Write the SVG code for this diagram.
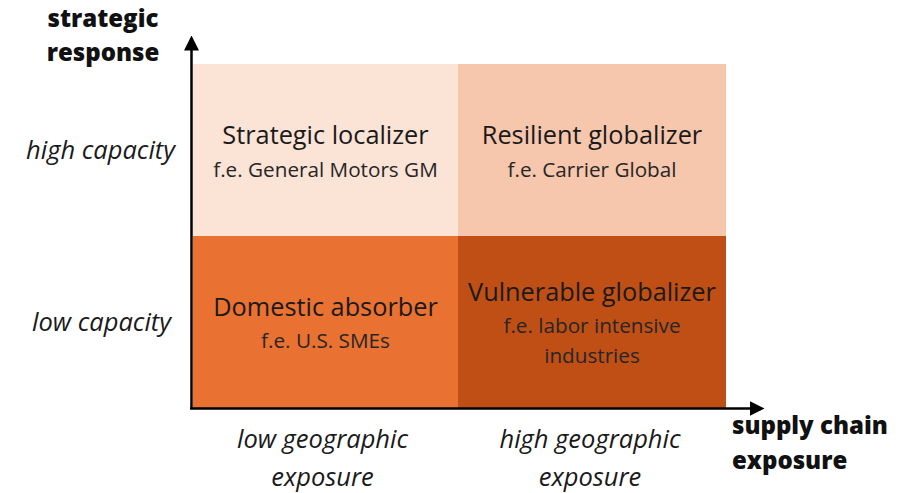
<svg xmlns="http://www.w3.org/2000/svg" width="908" height="493" viewBox="0 0 908 493">
  <defs>
    <marker id="arrow" markerWidth="6" markerHeight="6" refX="5" refY="3" orient="auto" markerUnits="strokeWidth">
      <path d="M0,0 L6,3 L0,6 Z" fill="#000"/>
    </marker>
    <style>
      .title { font-family: "Open Sans", "Liberation Sans", sans-serif; font-size: 25.3px; fill: #1a1a1a; text-anchor: middle; }
      .sub { font-family: "Open Sans", "Liberation Sans", sans-serif; font-size: 20.7px; fill: #262626; text-anchor: middle; }
      .tick { font-family: "Open Sans", "Liberation Sans", sans-serif; font-size: 25.5px; font-style: italic; fill: #1a1a1a; }
      .axis-label { font-family: "Open Sans", "Liberation Sans", sans-serif; font-size: 24px; font-weight: 800; fill: #111; }
      .axis { stroke: #000; stroke-width: 2.5; fill: none; }
    </style>
  </defs>

  <rect width="908" height="493" fill="#fff"/>

  <!-- quadrants -->
  <g id="strategic-localizer">
    <rect x="193" y="64" width="265" height="172" fill="#FBE3D6"/>
    <text class="title" x="325.5" y="144">Strategic localizer</text>
    <text class="sub" x="325.5" y="177">f.e. General Motors GM</text>
  </g>
  <g id="resilient-globalizer">
    <rect x="458" y="64" width="268" height="172" fill="#F6C6AD"/>
    <text class="title" x="592" y="144">Resilient globalizer</text>
    <text class="sub" x="592" y="177">f.e. Carrier Global</text>
  </g>
  <g id="domestic-absorber">
    <rect x="193" y="236" width="265" height="172" fill="#E97132"/>
    <text class="title" x="325.5" y="316">Domestic absorber</text>
    <text class="sub" x="325.5" y="348">f.e. U.S. SMEs</text>
  </g>
  <g id="vulnerable-globalizer">
    <rect x="458" y="236" width="268" height="172" fill="#C04F15"/>
    <text class="title" x="592" y="301">Vulnerable globalizer</text>
    <text class="sub" x="592" y="333">f.e. labor intensive</text>
    <text class="sub" x="592" y="363">industries</text>
  </g>

  <!-- axes -->
  <g id="connectors">
    <line class="axis" x1="191.5" y1="409" x2="191.5" y2="38" marker-end="url(#arrow)"/>
    <line class="axis" x1="190" y1="408.5" x2="762" y2="408.5" marker-end="url(#arrow)"/>
  </g>

  <!-- axis labels -->
  <g id="y-axis-label">
    <text class="axis-label" x="103" y="27" text-anchor="middle">strategic</text>
    <text class="axis-label" x="103" y="61" text-anchor="middle">response</text>
  </g>
  <g id="x-axis-label">
    <text class="axis-label" x="732" y="434">supply chain</text>
    <text class="axis-label" x="732" y="469">exposure</text>
  </g>

  <!-- tick labels -->
  <g id="y-ticks">
    <text class="tick" x="175" y="159" text-anchor="end">high capacity</text>
    <text class="tick" x="171" y="331" text-anchor="end">low capacity</text>
  </g>
  <g id="x-ticks">
    <text class="tick" x="322.5" y="448" text-anchor="middle">low geographic</text>
    <text class="tick" x="322.5" y="486" text-anchor="middle">exposure</text>
    <text class="tick" x="590" y="448" text-anchor="middle">high geographic</text>
    <text class="tick" x="590" y="486" text-anchor="middle">exposure</text>
  </g>
</svg>
